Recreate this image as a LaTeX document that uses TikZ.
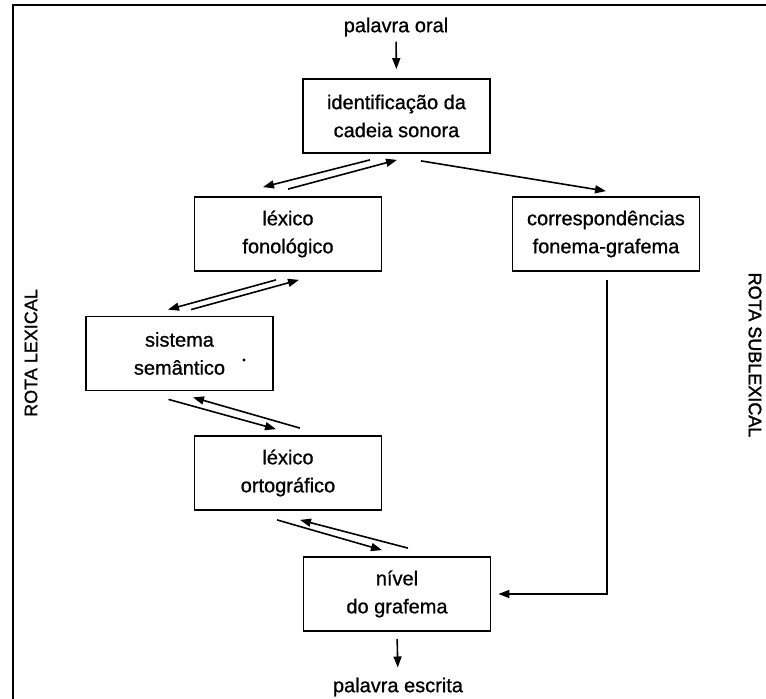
\documentclass[tikz,border=0pt]{standalone}
\usepackage{fontspec}
\setmainfont{Liberation Sans}[UprightFeatures={FakeBold=0.9}]
\newfontfamily\heavyfont{Liberation Sans}[UprightFeatures={FakeBold=1.8}]
\usetikzlibrary{arrows.meta,calc}
\begin{document}
\begin{tikzpicture}[x=1pt,y=-1pt,
  box/.style={draw,line width=1.8pt,minimum width=187pt,minimum height=74pt,align=center,
    font=\fontsize{20}{28}\selectfont,inner sep=0pt},
  lbl/.style={font=\fontsize{20}{24}\selectfont,inner sep=0pt},
  side/.style={font=\fontsize{18}{22}\selectfont,inner sep=0pt},
  arr/.style={-{Triangle[length=11pt,width=8pt]},line width=1.6pt}]
\useasboundingbox (0,0) rectangle (766,699);
\draw[line width=2pt] (13,699) -- (13,5) -- (766,5);

\node[lbl] (oral) at (396,27) {palavra oral};
\node[box] (idc) at (396.5,116) {identificação da\\cadeia sonora};
\node[box] (lexf) at (288,234) {léxico\\fonológico};
\node[box] (corr) at (606,234) {correspondências\\fonema-grafema};
\node[box] (sem) at (179.5,353.5) {sistema\\semântico};
\node[box] (lexo) at (288,473) {léxico\\ortográfico};
\node[box] (niv) at (397,594) {nível\\do grafema};
\node[lbl] (escr) at (398,687) {palavra escrita};
\fill (244,360) circle (1.6pt);

\node[side,rotate=90] (rl) at (31,353) {ROTA LEXICAL};
\node[side,rotate=-90] (rs) at (755,355) {\heavyfont ROTA SUBLEXICAL};

% top and bottom
\draw[arr,shorten <=5pt,shorten >=9pt] (oral.south) -- (idc.north);
\draw[arr,shorten <=7pt,shorten >=10pt] (niv.south) -- (escr.north);

% idc <-> lexf
\draw[arr] ([xshift=-26.5pt,yshift=-6pt]idc.south) -- ([xshift=-25pt,yshift=9pt]lexf.north);
\draw[arr] ([yshift=7pt]lexf.north) -- ([xshift=0.5pt,yshift=-6pt]idc.south);
% idc -> corr
\draw[arr] ([xshift=24.5pt,yshift=-7pt]idc.south) -- ([yshift=5pt]corr.north);
% lexf <-> sem
\draw[arr] ([xshift=-12pt,yshift=-8pt]lexf.south) -- ([xshift=-11.5pt,yshift=6pt]sem.north);
\draw[arr] ([xshift=11.5pt,yshift=6pt]sem.north) -- ([xshift=11pt,yshift=-8pt]lexf.south);
% sem <-> lexo
\draw[arr] ([xshift=-11pt,yshift=-8pt]sem.south) -- ([xshift=-12pt,yshift=6pt]lexo.north);
\draw[arr] ([xshift=12pt,yshift=7pt]lexo.north) -- ([xshift=13.5pt,yshift=-6pt]sem.south);
% lexo <-> niv
\draw[arr] ([xshift=-11pt,yshift=-9pt]lexo.south) -- ([xshift=-15pt,yshift=6pt]niv.north);
\draw[arr] ([xshift=11pt,yshift=8pt]niv.north) -- ([xshift=12pt,yshift=-9pt]lexo.south);
% corr -> niv
\draw[arr] ([xshift=1pt,yshift=-8pt]corr.south) |- ([xshift=7pt]niv.east);
\end{tikzpicture}
\end{document}
